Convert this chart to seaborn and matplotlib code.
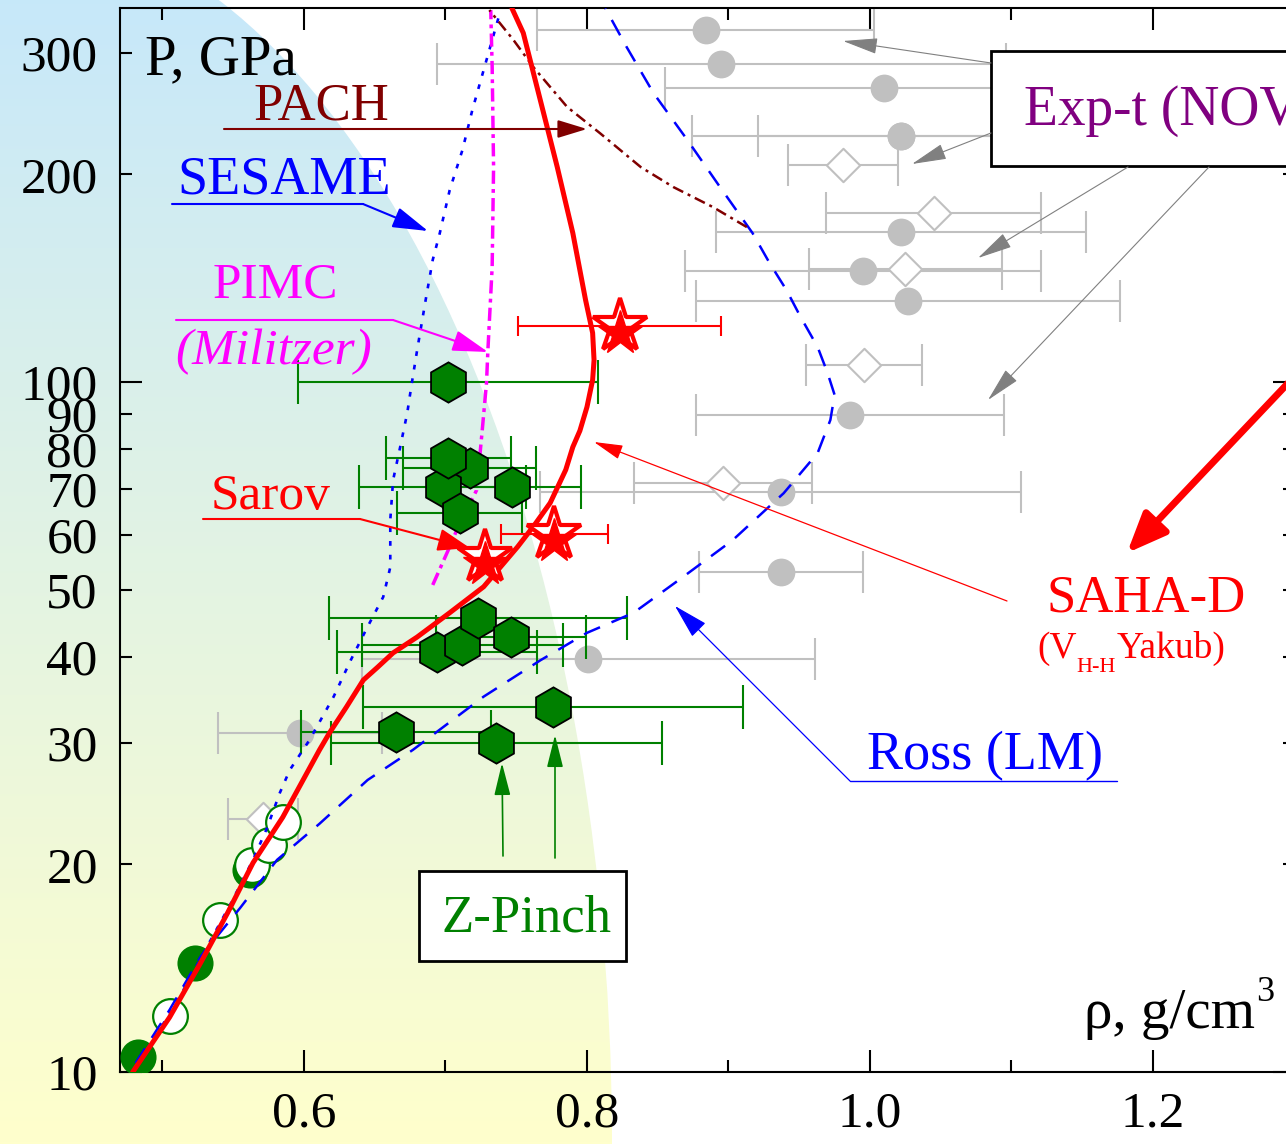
import numpy as np
import matplotlib
matplotlib.use("Agg")
import matplotlib.pyplot as plt
import seaborn as sns
from matplotlib.patches import Ellipse, Rectangle, FancyArrowPatch
from matplotlib.lines import Line2D
from matplotlib.ticker import FixedLocator, FuncFormatter
import matplotlib.transforms as mtransforms

# --- curves (rho g/cm3, P GPa)
saha_rho = [0.479, 0.505, 0.527, 0.546, 0.564, 0.585, 0.611, 0.618, 0.630, 0.642, 0.652,
            0.663, 0.680, 0.703, 0.727, 0.751, 0.763, 0.774, 0.785, 0.790, 0.795, 0.800,
            0.804, 0.805, 0.804, 0.799, 0.790, 0.779, 0.767, 0.755, 0.747]
saha_p = [10.0, 12.0, 14.4, 17.0, 20.1, 23.4, 29.3, 31.0, 33.8, 37.0, 38.6, 40.5, 42.7,
          46.3, 50.5, 57.7, 62.1, 66.8, 74.6, 80.5, 85.0, 92.0, 100.7, 107.6, 117.8,
          131.5, 164.4, 204.9, 256.3, 320.5, 348.0]

ross_rho = [0.481, 0.505, 0.527, 0.555, 0.581, 0.611, 0.645, 0.677, 0.727, 0.767, 0.800,
            0.833, 0.868, 0.903, 0.939, 0.963, 0.972, 0.975, 0.970, 0.963, 0.951, 0.941,
            0.929, 0.917, 0.894, 0.871, 0.847, 0.828, 0.813]
ross_p = [10.3, 12.3, 14.7, 17.3, 20.3, 22.9, 26.5, 29.3, 35.0, 39.5, 43.3, 46.3, 52.2,
          59.0, 69.0, 78.9, 88.1, 95.8, 103.1, 112.4, 124.2, 135.9, 148.8, 164.4, 191.7,
          224.2, 262.3, 305.9, 348.0]

sesame_rho = [0.484, 0.509, 0.530, 0.548, 0.564, 0.574, 0.583, 0.590, 0.604, 0.621, 0.633,
              0.645, 0.656, 0.661, 0.661, 0.663, 0.668, 0.673, 0.676, 0.680, 0.686, 0.691,
              0.696, 0.703, 0.712, 0.719, 0.729, 0.739]
sesame_p = [10.4, 12.5, 15.0, 17.5, 20.3, 22.6, 25.4, 27.4, 30.3, 35.0, 39.5, 44.2, 48.8,
            53.9, 63.1, 72.1, 80.5, 90.2, 99.0, 111.3, 131.5, 150.3, 164.4, 189.8, 216.9,
            247.9, 292.9, 346.0]

pimc_rho = [0.691, 0.703, 0.709, 0.722, 0.726, 0.729, 0.730, 0.733, 0.734, 0.733, 0.732]
pimc_p = [50.8, 57.7, 61.7, 69.7, 85.2, 99.7, 111.3, 146.8, 204.9, 286.2, 346.0]

pach_rho = [0.913, 0.889, 0.861, 0.838, 0.809, 0.786, 0.762, 0.748, 0.731]
pach_p = [167.7, 179.3, 191.7, 204.9, 229.6, 250.4, 286.2, 313.2, 346.0]

# --- experiments
nova_circ_rho = [0.884, 0.895, 1.010, 1.022, 1.022, 1.022, 0.995, 1.027, 0.986, 0.937,
                 0.937, 0.801, 0.597]
nova_circ_p = [324, 289, 267, 227, 227, 165, 145, 131, 89.6, 69.3, 53.0, 39.7, 31.0]
nova_circ_err = [0.119, 0.201, 0.155, 0.148, 0.101, 0.131, 0.126, 0.150, 0.109, 0.170,
                 0.058, 0.160, 0.058]

nova_diam_rho = [0.981, 1.045, 1.025, 0.996, 0.896, 0.571]
nova_diam_p = [206, 176, 146, 106, 71.4, 23.3]
nova_diam_err = [0.039, 0.076, 0.068, 0.041, 0.063, 0.025]

zp_rho = [0.702, 0.717, 0.698, 0.702, 0.710, 0.747, 0.694, 0.712, 0.723, 0.746,
          0.665, 0.736, 0.776]
zp_p = [100, 75.1, 70.4, 77.6, 64.6, 70.4, 40.6, 41.6, 45.5, 42.7, 31.1, 30.0, 33.8]
zp_err = [0.106, 0.047, 0.059, 0.044, 0.044, 0.049, 0.071, 0.071, 0.105, 0.053,
          0.067, 0.117, 0.134]

gas_fill_rho = [0.483, 0.523, 0.562]
gas_fill_p = [10.5, 14.4, 19.6]
gas_open_rho = [0.505, 0.541, 0.563, 0.575, 0.585]
gas_open_p = [12.05, 16.6, 19.95, 21.3, 23.0]

sarov_rho = [0.823, 0.777, 0.728]
sarov_p = [120.6, 60.2, 55.8]
sarov_err = [0.072, 0.038]

y_major = [10, 100]
y_minor = [20, 30, 40, 50, 60, 70, 80, 90, 200, 300]
x_major = [0.6, 0.8, 1.0, 1.2]
x_minor = [0.5, 0.7, 0.9, 1.1]

W, H = 1286, 1144
GREEN, GRAY = "#008000", "#c0c0c0"

sns.set_theme(style="ticks")
plt.rcParams["font.family"] = ["Liberation Serif", "DejaVu Serif"]

fig = plt.figure(figsize=(W / 100, H / 100), dpi=100)

# background shade (blue -> yellow), behind everything
bg = fig.add_axes([0, 0, 1, 1], zorder=0)
bg.set_xlim(0, W)
bg.set_ylim(H, 0)
bg.axis("off")
t = np.linspace(0, 1, 256)[:, None, None]
c_top = np.array([0.78, 0.91, 0.98])
c_bot = np.array([1.0, 1.0, 0.80])
grad = c_top * (1 - t) + c_bot * t
im = bg.imshow(grad, extent=(0, W, H, 0), aspect="auto", interpolation="bilinear")
clip = Ellipse((0, H), 2 * 612, 2 * 1225, transform=bg.transData)
im.set_clip_path(clip)

ax = fig.add_axes([120 / W, 72 / H, 1174.5 / W, 1064 / H], zorder=1)
ax.set_facecolor("none")
ax.set_yscale("log")

# gray NOVA points
ax.errorbar(nova_circ_rho, nova_circ_p, xerr=nova_circ_err, fmt="none", ecolor=GRAY,
            elinewidth=1.5, capsize=15, capthick=1.5, zorder=2)
ax.errorbar(nova_diam_rho, nova_diam_p, xerr=nova_diam_err, fmt="none", ecolor=GRAY,
            elinewidth=1.5, capsize=15, capthick=1.5, zorder=2)
sns.scatterplot(x=nova_circ_rho, y=nova_circ_p, marker="o", s=20 ** 2, color=GRAY,
                linewidth=0, ax=ax, zorder=2.5)
sns.scatterplot(x=nova_diam_rho, y=nova_diam_p, marker="D", s=17 ** 2, color="white",
                edgecolor=GRAY, linewidth=1.5, ax=ax, zorder=2.5)

# Z-pinch bars
ax.errorbar(zp_rho, zp_p, xerr=zp_err, fmt="none", ecolor=GREEN, elinewidth=1.5,
            capsize=15.5, capthick=1.5, zorder=3)

# gas gun circles
sns.scatterplot(x=gas_fill_rho, y=gas_fill_p, marker="o", s=26 ** 2, color=GREEN,
                linewidth=0, ax=ax, zorder=3.5)
sns.scatterplot(x=gas_open_rho, y=gas_open_p, marker="o", s=25 ** 2, color="white",
                edgecolor=GREEN, linewidth=1.6, ax=ax, zorder=3.6)

# theory curves
sns.lineplot(x=ross_rho, y=ross_p, sort=False, estimator=None, color="blue", lw=1.8,
             linestyle=(0, (7, 5)), ax=ax, zorder=4)
sns.lineplot(x=sesame_rho, y=sesame_p, sort=False, estimator=None, color="blue", lw=1.9,
             linestyle=(0, (1.8, 3.4)), ax=ax, zorder=4)
sns.lineplot(x=pimc_rho, y=pimc_p, sort=False, estimator=None, color="#ff00ff", lw=2.5,
             linestyle=(0, (3.8, 1.5, 1.1, 1.5)), ax=ax, zorder=4)
sns.lineplot(x=pach_rho, y=pach_p, sort=False, estimator=None, color="#800000", lw=1.8,
             linestyle=(0, (4.5, 2, 1.2, 2)), ax=ax, zorder=4)
sns.lineplot(x=saha_rho, y=saha_p, sort=False, estimator=None, color="red", lw=3.6,
             ax=ax, zorder=4.5)

# Z-pinch hexagons on top
for r, p in zip(zp_rho, zp_p):
    ax.plot([r], [p], marker="h", ms=29, mfc=GREEN, mec="black", mew=1.3,
            ls="none", zorder=5)

# Sarov stars
ax.errorbar(sarov_rho[:2], sarov_p[:2], xerr=sarov_err, fmt="none", ecolor="red",
            elinewidth=1.5, capsize=7, capthick=1.5, zorder=5.5)
ax.plot(sarov_rho, sarov_p, marker="*", ms=41, mfc="white", mec="red", mew=3,
        ls="none", zorder=6)
shift = mtransforms.offset_copy(ax.transData, fig=fig, x=0, y=-7, units="dots")
ax.plot(sarov_rho, sarov_p, marker="*", ms=33, mfc="red", mec="red", mew=1,
        ls="none", zorder=6.5, transform=shift)

# axes cosmetics
ax.set_xlim(0.47, 1.30)
ax.set_ylim(10, 348.4)
ax.xaxis.set_major_locator(FixedLocator(x_major))
ax.xaxis.set_minor_locator(FixedLocator(x_minor))
ax.xaxis.set_major_formatter(FuncFormatter(lambda v, p: f"{v:.1f}"))
ax.xaxis.set_minor_formatter(FuncFormatter(lambda v, p: ""))
ax.yaxis.set_major_locator(FixedLocator(y_major))
ax.yaxis.set_minor_locator(FixedLocator(y_minor))
ax.yaxis.set_major_formatter(FuncFormatter(lambda v, p: f"{v:g}"))
ax.yaxis.set_minor_formatter(FuncFormatter(lambda v, p: f"{v:g}"))
ax.tick_params(which="both", direction="in", top=True, right=True, width=1.5,
               color="black", labelcolor="black", labelsize=37)
ax.tick_params(which="major", length=16)
ax.tick_params(which="minor", length=8.5)
ax.tick_params(axis="x", which="both", pad=14)
ax.tick_params(axis="y", which="both", pad=16)
for s in ax.spines.values():
    s.set_linewidth(1.5)
    s.set_color("black")
ax.set_xlabel("")
ax.set_ylabel("")


# annotations in figure pixel coordinates
def F(x, y):
    return (x / W, 1 - y / H)


def ftext(x, y, s, **kw):
    fig.text(x / W, 1 - y / H, s, va="baseline", ha="left", zorder=8, **kw)


def fline(pts, color, lw):
    xs = [p[0] / W for p in pts]
    ys = [1 - p[1] / H for p in pts]
    fig.add_artist(Line2D(xs, ys, transform=fig.transFigure, color=color, lw=lw,
                          zorder=7))


def farrow(p0, p1, color, lw, hl, hw):
    fig.add_artist(FancyArrowPatch(F(*p0), F(*p1), transform=fig.transFigure,
                                   arrowstyle=f"-|>,head_length={hl},head_width={hw}",
                                   mutation_scale=10, color=color, lw=lw,
                                   shrinkA=0, shrinkB=0, zorder=7))


# boxes
fig.add_artist(Rectangle(F(991, 166), (1420 - 991) / W, 115 / H, transform=fig.transFigure,
                         fc="white", ec="black", lw=2, zorder=6))
fig.add_artist(Rectangle(F(419, 961), 207 / W, 90 / H, transform=fig.transFigure,
                         fc="white", ec="black", lw=2, zorder=6))

ftext(145, 74, "P, GPa", fontsize=41, color="black")
ftext(1084, 1028, "ρ, g/cm", fontsize=41, color="black")
ftext(1256, 1001, "3", fontsize=26, color="black")

ftext(253, 120, "PACH", fontsize=38, color="#800000")
farrow((224, 129), (587, 129), "#800000", 1.5, 1.8, 0.55)

ftext(177, 193, "SESAME", fontsize=39, color="blue")
fline([(172, 204), (363, 204)], "blue", 1.5)
farrow((363, 204), (428, 231), "blue", 1.5, 2.2, 0.65)

ftext(213, 298, "PIMC", fontsize=37, color="#ff00ff")
ftext(175, 364, "(Militzer)", fontsize=37, color="#ff00ff", style="italic")
fline([(176, 320), (393, 320)], "#ff00ff", 1.5)
farrow((393, 320), (488, 352), "#ff00ff", 1.5, 2.2, 0.65)

ftext(211, 509, "Sarov", fontsize=37, color="red")
fline([(203, 519), (360, 519)], "red", 1.5)
farrow((360, 519), (470, 548), "red", 1.5, 2.0, 0.7)

ftext(1024, 125, "Exp-t (NOVA)", fontsize=40, color="#800080")
farrow((991, 63), (843, 41), "#808080", 0.8, 2.2, 0.5)
farrow((991, 133), (912, 164), "#808080", 0.8, 2.2, 0.5)
farrow((1128, 167), (978, 258), "#808080", 0.8, 2.2, 0.5)
farrow((1209, 167), (988, 400), "#808080", 0.8, 2.2, 0.5)

ftext(1047, 612, "SAHA-D", fontsize=38, color="red")
ftext(1037, 658, "(V", fontsize=27, color="red")
ftext(1076, 672, "H-H", fontsize=16, color="red")
ftext(1117, 658, "Yakub)", fontsize=27, color="red")
farrow((1007, 601), (594, 442), "red", 0.9, 1.8, 0.45)
farrow((1310, 360), (1127, 553), "red", 5, 2.4, 1.0)

ftext(867, 769, "Ross (LM)", fontsize=39, color="blue")
fline([(850, 781), (1117, 781)], "blue", 1.0)
farrow((850, 781), (675, 606), "blue", 0.9, 2.2, 0.6)

ftext(441, 932, "Z-Pinch", fontsize=38, color=GREEN)
farrow((503, 856), (502, 763), GREEN, 1.2, 2.0, 0.5)
farrow((555, 858), (555, 735), GREEN, 1.2, 2.0, 0.5)

fig.savefig("out.png", dpi=100)
